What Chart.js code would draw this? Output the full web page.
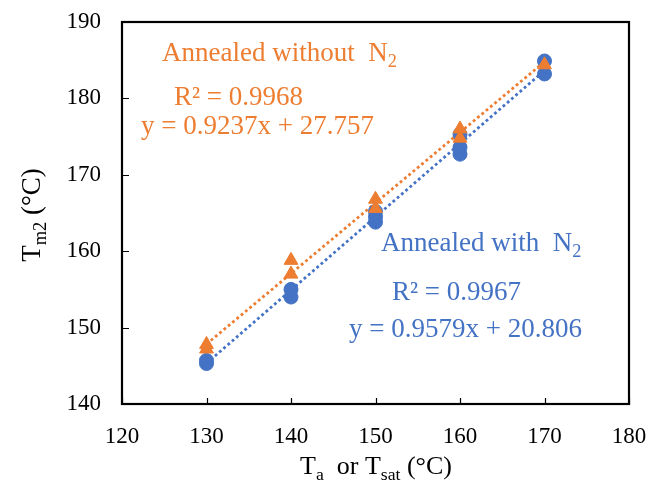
<!DOCTYPE html>
<html>
<head>
<meta charset="utf-8">
<script src="https://cdn.jsdelivr.net/npm/chart.js@4"></script>
<style>
html,body{margin:0;padding:0;background:#fff;}
#wrap{width:652px;height:483px;}
</style>
</head>
<body>
<div id="wrap"><canvas id="c" width="652" height="483"></canvas></div>
<script>
// ---- data ----
const withN2X = [130, 130, 140, 140, 150, 150, 150, 160, 160, 160, 170, 170];
const withN2Y = [145.3, 145.7, 154.0, 155.0, 163.8, 164.5, 165.2, 172.7, 173.6, 175.3, 183.2, 184.9];
const withoutN2X = [130, 130, 140, 140, 150, 150, 160, 160, 170];
const withoutN2Y = [147.2, 147.8, 157.0, 158.8, 165.6, 166.8, 174.8, 176.0, 184.4];
// trendline end points (from the fitted equations shown)
const trendX = [130, 170];
const withN2Trend = [145.33, 183.65];
const withoutN2Trend = [147.84, 184.79];
const xTicks = [120, 130, 140, 150, 160, 170, 180];
const yTicks = [140, 150, 160, 170, 180, 190];

const BLUE = '#4472C4';
const ORANGE = '#ED7D31';
const SERIF = "'Liberation Serif', 'Times New Roman', serif";

const pts = (xs, ys) => xs.map((x, i) => ({x: x, y: ys[i]}));

function drawRich(ctx, parts, x, y, size, color, align) {
  ctx.save();
  ctx.fillStyle = color;
  ctx.textBaseline = 'alphabetic';
  ctx.textAlign = 'left';
  let total = 0;
  const widths = parts.map(p => {
    ctx.font = (p.sub ? size * 0.68 : size) + 'px ' + SERIF;
    const w = ctx.measureText(p.t).width;
    total += w;
    return w;
  });
  let cx = align === 'center' ? x - total / 2 : x;
  parts.forEach((p, i) => {
    ctx.font = (p.sub ? size * 0.68 : size) + 'px ' + SERIF;
    ctx.fillText(p.t, cx, p.sub ? y + size * 0.22 : y);
    cx += widths[i];
  });
  ctx.restore();
}

const decor = {
  id: 'decor',
  afterDatasetsDraw(chart) {
    const ctx = chart.ctx;
    const a = chart.chartArea;
    const xs = chart.scales.x, ys = chart.scales.y;
    ctx.save();
    ctx.strokeStyle = '#000';
    ctx.lineWidth = 1.2;
    ctx.beginPath();
    xTicks.forEach(v => {
      const px = Math.round(xs.getPixelForValue(v)) + 0.5;
      ctx.moveTo(px, a.bottom);
      ctx.lineTo(px, a.bottom - 6);
    });
    yTicks.forEach(v => {
      const py = Math.round(ys.getPixelForValue(v)) + 0.5;
      ctx.moveTo(a.left, py);
      ctx.lineTo(a.left + 7, py);
    });
    ctx.stroke();
    ctx.lineWidth = 2.2;
    ctx.strokeRect(a.left, a.top, a.right - a.left, a.bottom - a.top);
    ctx.restore();

    // annotations
    drawRich(ctx, [{t: 'Annealed without  N'}, {t: '2', sub: true}], 162, 61, 27, ORANGE, 'left');
    drawRich(ctx, [{t: 'R² = 0.9968'}], 174, 105, 27, ORANGE, 'left');
    drawRich(ctx, [{t: 'y = 0.9237x + 27.757'}], 141, 134, 27, ORANGE, 'left');
    drawRich(ctx, [{t: 'Annealed with  N'}, {t: '2', sub: true}], 381, 251, 27, BLUE, 'left');
    drawRich(ctx, [{t: 'R² = 0.9967'}], 392, 300, 27, BLUE, 'left');
    drawRich(ctx, [{t: 'y = 0.9579x + 20.806'}], 349, 337, 27, BLUE, 'left');

    // axis titles
    drawRich(ctx, [{t: 'T'}, {t: 'a', sub: true}, {t: '  or T'}, {t: 'sat', sub: true}, {t: ' (°C)'}], 376, 474, 26, '#000', 'center');
    ctx.save();
    ctx.translate(40, 215);
    ctx.rotate(-Math.PI / 2);
    drawRich(ctx, [{t: 'T'}, {t: 'm2', sub: true}, {t: ' (°C)'}], 0, 0, 27, '#000', 'center');
    ctx.restore();
  }
};

const zeroPad = s => { s.paddingTop = 0; s.paddingBottom = 0; s.paddingLeft = 0; s.paddingRight = 0; };

new Chart(document.getElementById('c'), {
  type: 'scatter',
  data: {
    datasets: [
      {
        label: 'Annealed without N2',
        data: pts(withoutN2X, withoutN2Y),
        pointStyle: 'triangle',
        pointRadius: 8,
        backgroundColor: ORANGE,
        borderColor: ORANGE,
        borderWidth: 1,
        showLine: false,
        order: 0
      },
      {
        label: 'Annealed with N2',
        data: pts(withN2X, withN2Y),
        pointStyle: 'circle',
        pointRadius: 7,
        backgroundColor: BLUE,
        borderColor: BLUE,
        borderWidth: 1,
        showLine: false,
        order: 1
      },
      {
        label: 'trend without',
        data: pts(trendX, withoutN2Trend),
        showLine: true,
        pointRadius: 0,
        borderColor: ORANGE,
        borderWidth: 2.8,
        borderDash: [2.8, 2.8],
        fill: false,
        order: 2
      },
      {
        label: 'trend with',
        data: pts(trendX, withN2Trend),
        showLine: true,
        pointRadius: 0,
        borderColor: BLUE,
        borderWidth: 2.8,
        borderDash: [2.8, 2.8],
        fill: false,
        order: 3
      }
    ]
  },
  options: {
    responsive: false,
    animation: false,
    events: [],
    layout: {padding: {top: 22, right: 23, left: 0, bottom: 0}},
    plugins: {legend: {display: false}, tooltip: {enabled: false}},
    scales: {
      x: {
        type: 'linear',
        min: 120, max: 180,
        afterBuildTicks: s => { s.ticks = xTicks.map(v => ({value: v})); },
        afterFit: s => { s.height = 79; zeroPad(s); },
        grid: {display: false, drawTicks: false},
        border: {display: false},
        ticks: {font: {family: SERIF, size: 23}, color: '#000', padding: 19, maxRotation: 0}
      },
      y: {
        type: 'linear',
        min: 140, max: 190,
        afterBuildTicks: s => { s.ticks = yTicks.map(v => ({value: v})); },
        afterFit: s => { s.width = 122; zeroPad(s); },
        grid: {display: false, drawTicks: false},
        border: {display: false},
        ticks: {font: {family: SERIF, size: 23}, color: '#000', padding: 21}
      }
    }
  },
  plugins: [decor]
});
</script>
</body>
</html>
